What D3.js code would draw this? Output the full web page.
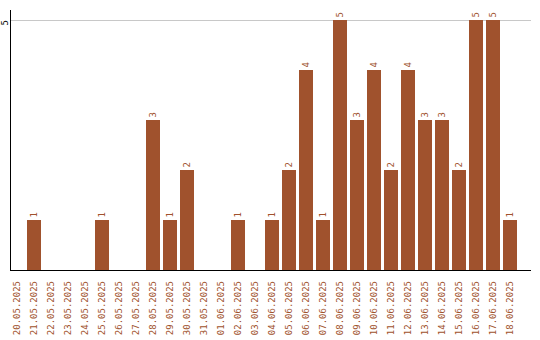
<!DOCTYPE html>
<html><head><meta charset="utf-8">
<script src="https://cdn.jsdelivr.net/npm/d3@7"></script>
<style>body{margin:0;background:#fff}svg{display:block}</style>
</head><body>
<svg id="c" width="540" height="340"></svg>
<script>
const dates = ["20.05.2025","21.05.2025","22.05.2025","23.05.2025","24.05.2025","25.05.2025","26.05.2025","27.05.2025","28.05.2025","29.05.2025","30.05.2025","31.05.2025","01.06.2025","02.06.2025","03.06.2025","04.06.2025","05.06.2025","06.06.2025","07.06.2025","08.06.2025","09.06.2025","10.06.2025","11.06.2025","12.06.2025","13.06.2025","14.06.2025","15.06.2025","16.06.2025","17.06.2025","18.06.2025"];
const counts = [0,1,0,0,0,1,0,0,3,1,2,0,0,1,0,1,2,4,1,5,3,4,2,4,3,3,2,5,5,1];
const yTicks = [5];

const svg = d3.select("#c");
const color = "#A0522D";
const font = "DejaVu Sans Mono";
const x = d3.scaleBand().domain(dates).range([8.5, 518.5]).paddingInner(3/17).paddingOuter(3/34);
const y = d3.scaleLinear().domain([0,5]).range([270,20]);

// gridlines
svg.append("g").selectAll("line").data(yTicks).join("line")
  .attr("x1",11).attr("x2",531).attr("y1",d=>y(d)+0.5).attr("y2",d=>y(d)+0.5)
  .attr("stroke","#c8c8c8").attr("stroke-width",1);

// bars
svg.append("g").selectAll("rect").data(dates).join("rect")
  .attr("x",d=>x(d)).attr("width",x.bandwidth())
  .attr("y",(d,i)=>y(counts[i])).attr("height",(d,i)=>y(0)-y(counts[i]))
  .attr("fill",color);

// value labels
svg.append("g").selectAll("text").data(dates.filter((d,i)=>counts[i]>0)).join("text")
  .attr("transform",d=>`translate(${x(d)+x.bandwidth()/2+3.3},${y(counts[dates.indexOf(d)])-2.5}) rotate(-90)`)
  .attr("text-anchor","start").attr("font-family",font).attr("font-size",9)
  .attr("fill",color).text(d=>counts[dates.indexOf(d)]);

// axes lines
svg.append("line").attr("x1",10.5).attr("x2",10.5).attr("y1",10).attr("y2",270).attr("stroke","#000");
svg.append("line").attr("x1",10).attr("x2",531).attr("y1",270.5).attr("y2",270.5).attr("stroke","#000");

// y tick labels
svg.append("g").selectAll("text").data(yTicks).join("text")
  .attr("transform",d=>`translate(8.3,${y(d)+5.5}) rotate(-90)`)
  .attr("text-anchor","start").attr("font-family",font).attr("font-size",9)
  .attr("fill","#000").text(d=>d);

// x labels
svg.append("g").selectAll("text").data(dates).join("text")
  .attr("transform",d=>`translate(${x(d)+x.bandwidth()/2+3.3},281) rotate(-90)`)
  .attr("text-anchor","end").attr("font-family",font).attr("font-size",9)
  .attr("fill",color).text(d=>d);
</script>
</body></html>
